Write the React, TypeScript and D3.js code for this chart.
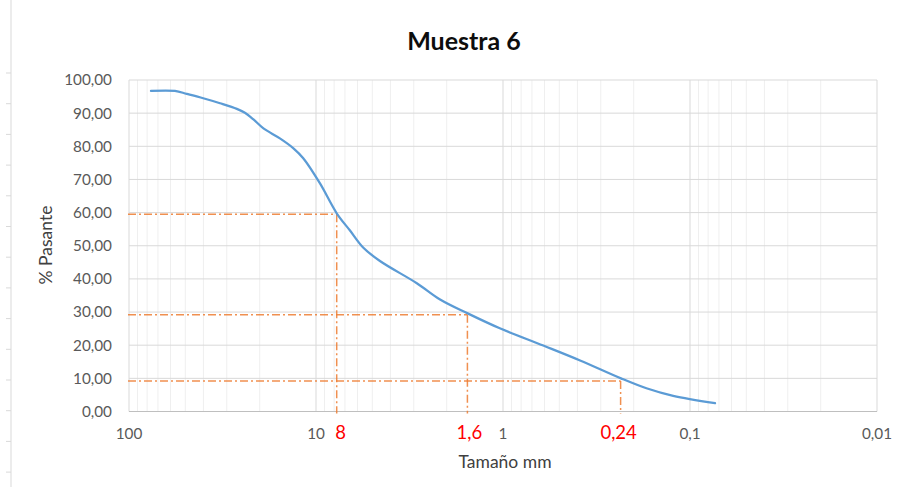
import React from "react";
import * as d3 from "d3";

// Particle size (mm) and % passing
const sizes = [76.3, 56.8, 49.1, 40.1, 32.6, 26.5, 24.0, 21.6, 19.1, 15.6, 13.2, 11.7, 9.52, 7.75, 6.58, 5.58, 4.55, 2.89, 2.17, 1.545, 1.04, 0.609, 0.387, 0.234, 0.171, 0.123, 0.0735];
const passing = [96.7, 96.7, 95.8, 94.5, 93.0, 91.3, 90.1, 88.1, 85.4, 82.4, 79.4, 76.4, 68.8, 59.8, 54.6, 49.4, 45.4, 38.7, 33.8, 29.6, 25.1, 19.9, 15.4, 10.0, 7.0, 4.7, 2.5];

// Reference guide lines (D60, D30, D10)
const markerSizes = [7.75, 1.55, 0.235];
const markerPassing = [59.5, 29.2, 9.2];
const markerLabels = ["8", "1,6", "0,24"];

const yTicks = [0, 10, 20, 30, 40, 50, 60, 70, 80, 90, 100];
const xTickValues = [100, 10, 1, 0.1, 0.01];
const xTickLabels = ["100", "10", "1", "0,1", "0,01"];

const title = "Muestra 6";
const xTitle = "Tamaño mm";
const yTitle = "% Pasante";

const W = 906;
const H = 487;
const FONT = "Lato, 'Open Sans', sans-serif";

export default function App() {
  const x = d3.scaleLog().domain([100, 0.01]).range([129, 877]);
  const y = d3.scaleLinear().domain([0, 100]).range([411.5, 80]);

  const allTicks = x.ticks();
  const isMajor = (v: number) => Math.abs(Math.log10(v) - Math.round(Math.log10(v))) < 1e-9;

  const pts: [number, number][] = sizes.map((s, i) => [x(s), y(passing[i])]);
  const line = d3.line<[number, number]>().x(d => d[0]).y(d => d[1]).curve(d3.curveCatmullRom.alpha(0.5));

  const fmt = (v: number) => d3.format(".2f")(v).replace(".", ",");

  const edgeTicks = d3.range(0, 15).map(i => 73 + i * 30.7);

  return (
    <svg width={W} height={H} style={{ position: "absolute", left: 0, top: 0, background: "#fff" }} fontFamily={FONT}>
      <rect x={0} y={0} width={W} height={H} fill="#fff" />
      {/* left edge artifact */}
      <line x1={11} x2={11} y1={0} y2={H} stroke="#d9d9d9" strokeWidth={1} />
      {edgeTicks.map((t, i) => (
        <line key={"et" + i} x1={6} x2={11} y1={t} y2={t} stroke="#d9d9d9" strokeWidth={1} />
      ))}

      {/* minor vertical grid */}
      {allTicks.filter(v => !isMajor(v)).map((v, i) => (
        <line key={"mv" + i} x1={x(v)} x2={x(v)} y1={y(100)} y2={y(0)} stroke="#efefef" strokeWidth={1} />
      ))}
      {/* horizontal grid */}
      {yTicks.map(v => (
        <line key={"h" + v} x1={x(100)} x2={x(0.01)} y1={y(v)} y2={y(v)} stroke="#d9d9d9" strokeWidth={1} />
      ))}
      {/* major vertical grid */}
      {xTickValues.map(v => (
        <line key={"MV" + v} x1={x(v)} x2={x(v)} y1={y(100)} y2={y(0)} stroke="#d9d9d9" strokeWidth={1} />
      ))}
      {/* x axis line */}
      <line x1={x(100)} x2={x(0.01)} y1={y(0)} y2={y(0)} stroke="#bfbfbf" strokeWidth={1} />

      {/* guide lines */}
      {markerSizes.map((s, i) => (
        <g key={"mk" + i} stroke="#ED7D31" strokeOpacity={0.85} strokeWidth={1.5} fill="none" strokeDasharray="8,3,2,3">
          <line x1={x(100) - 1} x2={x(s)} y1={y(markerPassing[i])} y2={y(markerPassing[i])} />
          <line x1={x(s)} x2={x(s)} y1={y(markerPassing[i])} y2={y(0) + 2} />
        </g>
      ))}

      {/* curve */}
      <path d={line(pts) || ""} fill="none" stroke="#5B9BD5" strokeWidth={2.25} strokeLinejoin="round" strokeLinecap="round" />

      {/* y tick labels */}
      {yTicks.map(v => (
        <text key={"yl" + v} x={112} y={y(v)} dy="0.35em" textAnchor="end" fontSize={15.3} fill="#595959">
          {fmt(v)}
        </text>
      ))}
      {/* x tick labels */}
      {xTickValues.map((v, i) => (
        <text key={"xl" + v} x={x(v)} y={439} textAnchor="middle" fontSize={15.3} fill="#595959">
          {xTickLabels[i]}
        </text>
      ))}
      {/* marker labels */}
      {markerSizes.map((s, i) => (
        <text key={"ml" + i} x={x(s) + [4, 2, -2][i]} y={439} textAnchor="middle" fontSize={18.5} fill="#FF0000">
          {markerLabels[i]}
        </text>
      ))}

      {/* titles */}
      <text x={464} y={50} textAnchor="middle" fontSize={25} fontWeight="bold" fill="#0d0d0d">{title}</text>
      <text x={505} y={468} textAnchor="middle" fontSize={17.5} fill="#404040">{xTitle}</text>
      <text transform={`translate(52,245) rotate(-90)`} textAnchor="middle" fontSize={17.5} fill="#404040">{yTitle}</text>
    </svg>
  );
}
